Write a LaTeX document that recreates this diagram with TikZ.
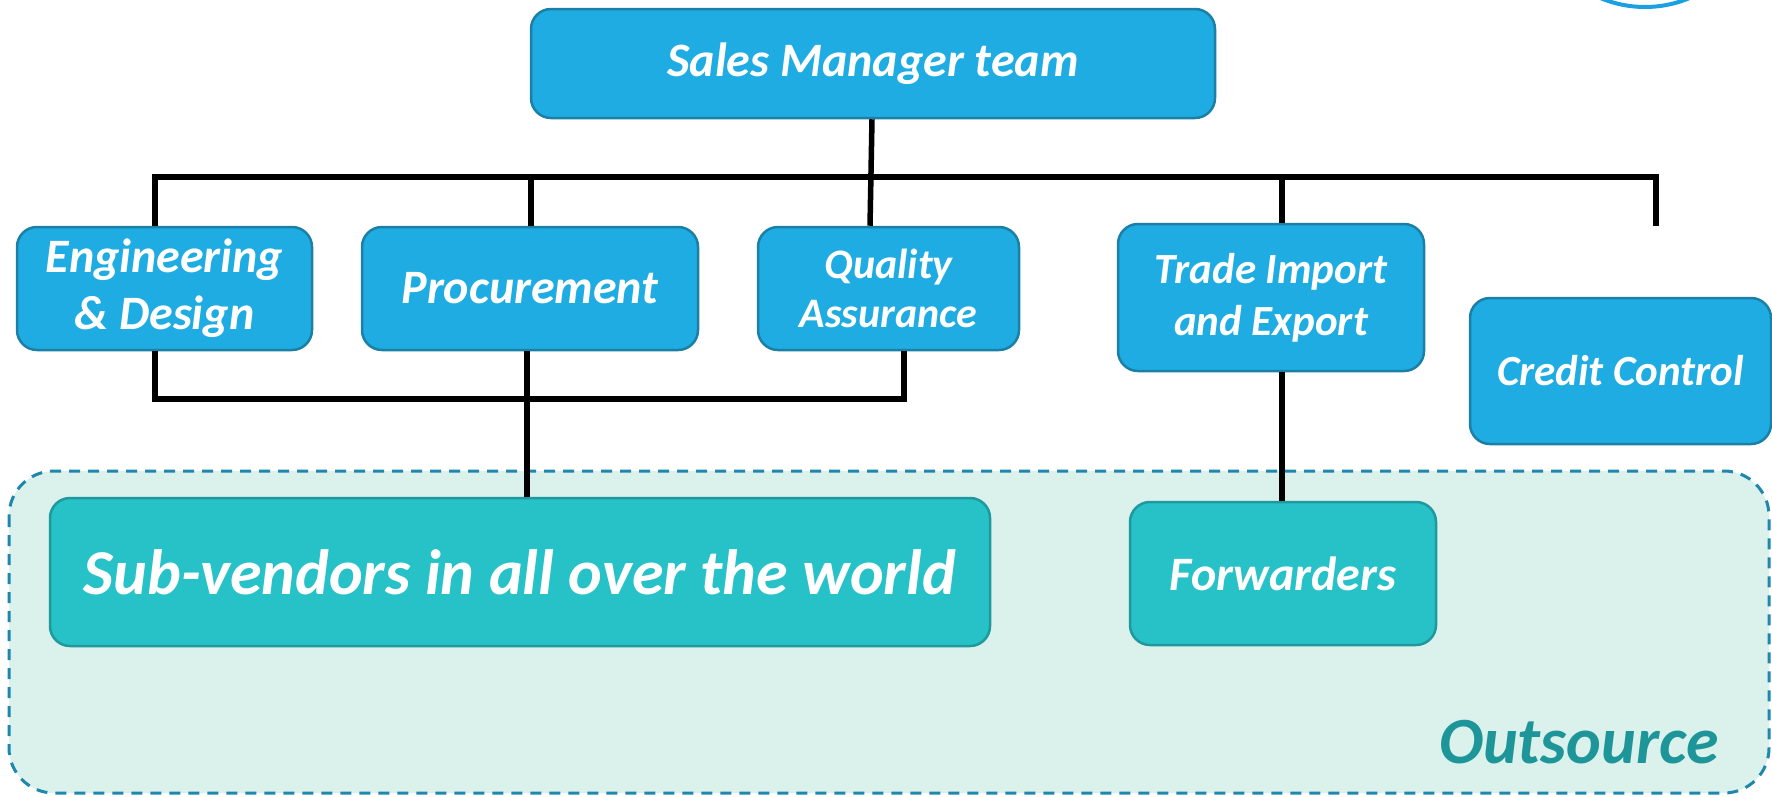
\documentclass[tikz,border=0pt]{standalone}
\usepackage{fontspec}
\setmainfont{Carlito}
\definecolor{unitfill}{HTML}{1EACE2}
\definecolor{unitline}{HTML}{1B7FA6}
\definecolor{extfill}{HTML}{26C2C8}
\definecolor{extline}{HTML}{1F999E}
\definecolor{zonefill}{HTML}{DAF1EC}
\definecolor{zoneline}{HTML}{1F87AE}
\definecolor{zonetext}{HTML}{1E9699}
\definecolor{ringblue}{HTML}{1BA1E2}
\newcommand{\fs}[1]{\fontsize{#1}{1.2\dimexpr #1pt\relax}\selectfont}
\tikzset{
  unit/.style={draw=unitline, line width=2.5pt, fill=unitfill, rounded corners=20pt,
    text=white, font=\bfseries\itshape, align=center, inner sep=0pt},
  ext/.style={draw=extline, line width=2.5pt, fill=extfill, rounded corners=20pt,
    text=white, font=\bfseries\itshape, align=center, inner sep=0pt},
  link/.style={line width=5.5pt, black},
}
\begin{document}
\begin{tikzpicture}[x=1pt, y=-1pt]
\useasboundingbox (0,0) rectangle (1772,796);
\begin{scope}
\clip (0,0) rectangle (1772,796);
% decorative ring in the corner
\draw[ringblue, line width=4pt] (1645,-108) circle (115);

% outsourced area
\draw[zoneline, fill=zonefill, line width=3pt, dash pattern=on 11pt off 8pt,
      rounded corners=45pt] (9,471) rectangle (1769,793);
\node[text=zonetext, font=\bfseries\itshape\fs{66}] (outs) at (1579,742) {Outsource};

% head of the team
\node[unit, minimum width=684pt, minimum height=109pt, font=\bfseries\itshape\fs{48}]
  (sales) at (873,63.5) {Sales Manager team};

% departments
\node[unit, minimum width=295pt, minimum height=123pt, font=\bfseries\itshape\fontsize{48}{57}\selectfont]
  (eng) at (164.5,288.5) {Engineering\\\& Design};
\node[unit, minimum width=336pt, minimum height=123pt, font=\bfseries\itshape\fs{48}]
  (proc) at (530,288.5) {Procurement};
\node[unit, minimum width=261pt, minimum height=123pt, font=\bfseries\itshape\fontsize{42}{49}\selectfont]
  (qa) at (888.5,288.5) {Quality\\Assurance};
\node[unit, minimum width=306pt, minimum height=147pt, font=\bfseries\itshape\fontsize{43}{52}\selectfont]
  (trade) at (1271,297.5) {Trade Import\\and Export};
\node[unit, minimum width=301pt, minimum height=146pt, font=\bfseries\itshape\fs{43}]
  (credit) at (1620.5,371) {Credit Control};

% outside partners
\node[ext, minimum width=940pt, minimum height=148pt, font=\bfseries\itshape\fs{64}]
  (subv) at (520,572) {Sub-vendors in all over the world};
\node[ext, minimum width=306pt, minimum height=143pt, font=\bfseries\itshape\fs{48}]
  (fwd) at (1283,573.5) {Forwarders};

% top distribution bar
\coordinate (creditdrop) at (1656,226);
\draw[link] (sales.south -| 872,0) -- (qa.north -| 870,0);
\draw[link] (eng.north -| 155,0) -- (155,177) -- (1656,177) -- (creditdrop);
\draw[link] (proc.north -| 531,0) -- (531,177);
\draw[link] (trade.north -| 1282,0) -- (1282,177);

% bottom bracket of the technical departments
\draw[link] (eng.south -| 155,0) -- (155,399) -- (904,399) -- (qa.south -| 904,0);
\draw[link] (proc.south -| 527,0) -- (subv.north -| 527,0);
\draw[link] (trade.south -| 1282,0) -- (fwd.north -| 1282,0);
\end{scope}
\end{tikzpicture}
\end{document}
